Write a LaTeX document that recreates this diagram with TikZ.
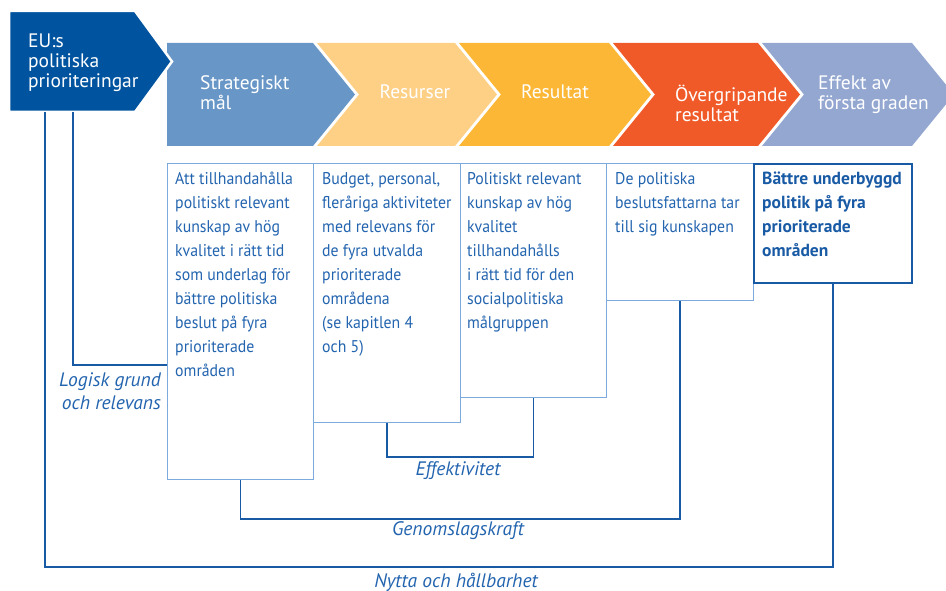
\documentclass[tikz,border=0pt]{standalone}
\usepackage{fontspec}
\setmainfont{PT Sans}
\newfontfamily\narrowfont{PT Sans}[FakeStretch=0.93]
\definecolor{eublue}{RGB}{0,84,159}
\definecolor{stratblue}{RGB}{104,150,198}
\definecolor{resbeige}{RGB}{253,208,134}
\definecolor{resyellow}{RGB}{251,183,53}
\definecolor{overred}{RGB}{240,90,40}
\definecolor{effblue}{RGB}{148,167,209}
\definecolor{txtblue}{RGB}{35,100,175}
\definecolor{boxline}{RGB}{125,170,220}
\definecolor{linkblue}{RGB}{25,90,165}

\begin{document}
\begin{tikzpicture}[x=1pt,y=-1pt,
  box/.style={draw=boxline, line width=1.2pt, anchor=north west, inner sep=0pt},
  boxtext/.style={anchor=north west, inner sep=0pt, align=left, text=txtblue, font=\narrowfont\fontsize{17}{24}\selectfont},
  chevtext/.style={text=white, align=left, inner sep=0pt, font=\fontsize{19.5}{20}\selectfont},
  link/.style={draw=linkblue, line width=1.5pt},
  lbl/.style={text=txtblue, inner sep=0pt, font=\fontsize{19.5}{23}\selectfont\itshape}]
\useasboundingbox (0,0) rectangle (946,591);
\fill[stratblue] (167,43) -- (313,43) -- (355,94.5) -- (313,146) -- (167,146) -- cycle;
\fill[resbeige] (317,43) -- (455,43) -- (497,94.5) -- (455,146) -- (317,146) -- (359,94.5) -- cycle;
\fill[resyellow] (459,43) -- (609,43) -- (651,94.5) -- (609,146) -- (459,146) -- (501,94.5) -- cycle;
\fill[overred] (613,43) -- (758,43) -- (800,94.5) -- (758,146) -- (613,146) -- (655,94.5) -- cycle;
\fill[effblue] (762,43) -- (912,43) -- (954,94.5) -- (912,146) -- (762,146) -- (804,94.5) -- cycle;
\filldraw[fill=eublue, draw=white, line width=2.5pt] (9,11) -- (135,11) -- (172,61.5) -- (135,112) -- (9,112) -- cycle;
\coordinate (eu1) at (45,112);
\coordinate (eu2) at (73,112);
\node[chevtext, anchor=west] (eu) at (28,63) {EU:s\\politiska\\prioriteringar};
\node[chevtext, anchor=west] (strat) at (200,93) {Strategiskt\\mål};
\node[chevtext] (resurser) at (415,92) {Resurser};
\node[chevtext] (resultat) at (555,92) {Resultat};
\node[chevtext, anchor=west] (overgr) at (675,103) {Övergripande\\resultat};
\node[chevtext, anchor=west] (effekt) at (818,95) {Effekt av\\första graden};
\node[box, minimum width=146, minimum height=316] (b1) at (167,163) {};
\node[box, minimum width=147, minimum height=259] (b2) at (313,163) {};
\node[box, minimum width=146, minimum height=234] (b3) at (460,163) {};
\node[box, minimum width=147, minimum height=137] (b4) at (606,163) {};
\node[box, draw=linkblue, line width=1.6pt, minimum width=158, minimum height=119] (b5) at (753,163) {};
\node[boxtext] (t1) at (175,172) {Att tillhandahålla\\politiskt relevant\\kunskap av hög\\kvalitet i rätt tid\\som underlag för\\bättre politiska\\beslut på fyra\\prioriterade\\områden};
\node[boxtext] (t2) at (322,172) {Budget, personal,\\fleråriga aktiviteter\\med relevans för\\de fyra utvalda\\prioriterade\\områdena\\(se kapitlen 4\\och 5)};
\node[boxtext] (t3) at (467,172) {Politiskt relevant\\kunskap av hög\\kvalitet\\tillhandahålls\\i rätt tid för den\\socialpolitiska\\målgruppen};
\node[boxtext] (t4) at (615,172) {De politiska\\beslutsfattarna tar\\till sig kunskapen};
\node[boxtext, font=\fontsize{17.5}{24}\selectfont\bfseries, text=linkblue] (t5) at (762,172) {Bättre underbyggd\\politik på fyra\\prioriterade\\områden};
\draw[link] (eu2) |- (b1.west |- 0,365);
\draw[link] (b2.south) -- ++(0,34) -| (b3.south);
\draw[link] (b1.south) -- ++(0,39) -| (b4.south);
\draw[link] (eu1) -- ++(0,455) -| (b5.south);
\node[lbl, align=right, anchor=east] (logisk) at (161,391) {Logisk grund\\och relevans};
\node[lbl] (effektiv) at (458,471) {Effektivitet};
\node[lbl] (genom) at (458,531) {Genomslagskraft};
\node[lbl] (nytta) at (456,582) {Nytta och hållbarhet};
\end{tikzpicture}
\end{document}
